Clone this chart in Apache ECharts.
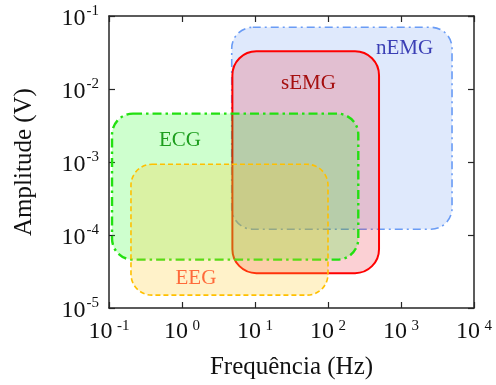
<!DOCTYPE html>
<html>
<head>
<meta charset="utf-8">
<script src="https://cdn.jsdelivr.net/npm/echarts@6/dist/echarts.min.js"></script>
<style>
  html, body { margin: 0; padding: 0; background: #fff; }
  #chart { width: 496px; height: 385px; }
</style>
</head>
<body>
<div id="chart"></div>
<script>
// faixas de cada sinal: [freq min, amp min, freq max, amp max]
var sinais = ['nEMG', 'sEMG', 'ECG', 'EEG'];
var faixaFreq = [[4.8, 5000], [4.9, 500], [0.11, 260], [0.2, 100]];
var faixaAmp = [[1.2e-4, 0.07], [3e-5, 0.033], [4.6e-5, 4.6e-3], [1.5e-5, 9.3e-4]];
// onde fica o nome de cada sinal (freq, amp)
var rotuloFreq = [1120, 54, 0.94, 1.55];
var rotuloAmp = [0.036, 0.012, 0.002, 2.5e-5];

var xTicks = [0.1, 1, 10, 100, 1000, 10000];
var yTicks = [1e-5, 1e-4, 1e-3, 1e-2, 1e-1];

// estilos
var estilo = {
    nEMG: { stroke: '#6a9cf5', fill: 'rgba(110,155,240,0.22)', width: 1.6, dash: [8, 4, 2, 4], text: '#3b3fb5', r: 21 },
    sEMG: { stroke: '#ff0000', fill: 'rgba(235,40,60,0.22)', width: 2, dash: null, text: '#a50f0f', r: 24 },
    ECG:  { stroke: '#22e010', fill: 'rgba(30,255,30,0.22)', width: 2.4, dash: [9, 4, 2.5, 4], text: '#1e9e1e', r: 21 },
    EEG:  { stroke: '#ffc000', fill: 'rgba(255,205,40,0.25)', width: 1.6, dash: [5, 3], text: '#ff6a3a', r: 21 }
};

var fonte = '"Liberation Serif", "DejaVu Serif", serif';

function fmtExp(v, sep) {
    var e = Math.round(Math.log10(v));
    return '{b|10}' + sep + '{s|' + e + '}';
}

var series = [];
for (var i = 0; i < sinais.length; i++) {
    var nome = sinais[i];
    series.push({
        type: 'custom',
        name: nome,
        xAxisIndex: 0,
        yAxisIndex: 0,
        encode: { x: [0, 2], y: [1, 3] },
        data: [[faixaFreq[i][0], faixaAmp[i][0], faixaFreq[i][1], faixaAmp[i][1], rotuloFreq[i], rotuloAmp[i]]],
        z: 2 + i,
        silent: true,
        renderItem: (function (nome) {
            return function (params, api) {
                var p0 = api.coord([api.value(0), api.value(3)]);
                var p1 = api.coord([api.value(2), api.value(1)]);
                var pl = api.coord([api.value(4), api.value(5)]);
                var st = estilo[nome];
                return {
                    type: 'group',
                    children: [{
                        type: 'rect',
                        shape: { x: p0[0], y: p0[1], width: p1[0] - p0[0], height: p1[1] - p0[1], r: st.r },
                        style: {
                            fill: st.fill,
                            stroke: st.stroke,
                            lineWidth: st.width,
                            lineDash: st.dash
                        }
                    }, {
                        type: 'text',
                        x: pl[0],
                        y: pl[1],
                        z2: 100,
                        style: {
                            text: nome,
                            fill: st.text,
                            font: '21px ' + fonte,
                            align: 'center',
                            verticalAlign: 'middle'
                        }
                    }]
                };
            };
        })(nome)
    });
}

var eixoBase = {
    type: 'log',
    logBase: 10,
    axisLine: { show: true, lineStyle: { color: '#262626', width: 1.5 } },
    axisTick: { show: true, inside: true, length: 6, lineStyle: { color: '#262626', width: 1.2 } },
    splitLine: { show: false },
    minorTick: { show: false }
};

var richTickX = {
    b: { fontFamily: fonte, fontSize: 24, color: '#111' },
    s: { fontFamily: fonte, fontSize: 15, color: '#111', padding: [0, 0, 10, 1] }
};
var richTickY = {
    b: { fontFamily: fonte, fontSize: 24, color: '#111', padding: [5, 0, 0, 0] },
    s: { fontFamily: fonte, fontSize: 15, color: '#111', padding: [0, 0, 9, 1] }
};

var chart = echarts.init(document.getElementById('chart'));
chart.setOption({
    animation: false,
    backgroundColor: '#fff',
    grid: { left: 109, right: 22, top: 16, bottom: 77 },
    xAxis: [
        Object.assign({}, eixoBase, {
            min: xTicks[0], max: xTicks[xTicks.length - 1],
            position: 'bottom',
            name: 'Frequência (Hz)',
            nameLocation: 'middle',
            nameGap: 47,
            nameTextStyle: { fontFamily: fonte, fontSize: 25, color: '#111' },
            axisLabel: {
                margin: 11,
                formatter: function (v) { return fmtExp(v, ' '); },
                rich: richTickX
            }
        }),
        Object.assign({}, eixoBase, {
            min: xTicks[0], max: xTicks[xTicks.length - 1],
            position: 'top',
            axisLabel: { show: false }
        })
    ],
    yAxis: [
        Object.assign({}, eixoBase, {
            min: yTicks[0], max: yTicks[yTicks.length - 1],
            position: 'left',
            name: 'Amplitude (V)',
            nameLocation: 'middle',
            nameGap: 72,
            nameTextStyle: { fontFamily: fonte, fontSize: 25, color: '#111' },
            axisLabel: {
                margin: 10,
                formatter: function (v) { return fmtExp(v, ''); },
                rich: richTickY
            }
        }),
        Object.assign({}, eixoBase, {
            min: yTicks[0], max: yTicks[yTicks.length - 1],
            position: 'right',
            axisLabel: { show: false }
        })
    ],
    series: series
});
</script>
</body>
</html>
